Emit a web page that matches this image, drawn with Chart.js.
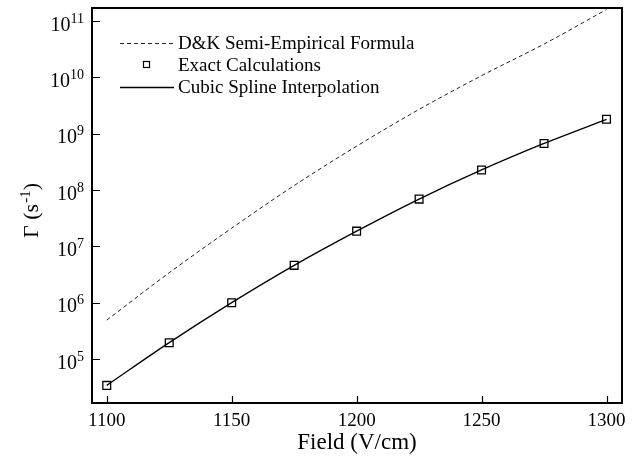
<!DOCTYPE html>
<html>
<head>
<meta charset="utf-8">
<title>Γ vs Field</title>
<script src="https://cdn.jsdelivr.net/npm/chart.js@4.4.1/dist/chart.umd.min.js"></script>
<style>
  html, body { margin: 0; padding: 0; background: #fff; }
  #wrap { width: 641px; height: 460px; }
</style>
</head>
<body>
<div id="wrap"><canvas id="c" width="641" height="460"></canvas></div>
<script>
// Field strengths (V/cm) at which the rates were evaluated
const fields = [1100, 1125, 1150, 1175, 1200, 1225, 1250, 1275, 1300];
// Exact calculations of the rate Γ (s^-1)
const exactRates = [3.4e4, 1.95e5, 1.0e6, 4.6e6, 1.86e7, 6.9e7, 2.27e8, 6.7e8, 1.8e9];
// D&K semi-empirical formula, same fields
const dkRates = [4.9e5, 3.4e6, 2.1e7, 1.2e8, 6.0e8, 2.7e9, 1.07e10, 3.9e10, 1.6e11];
// Axis ticks
const fieldTicks = [1100, 1150, 1200, 1250, 1300];
const rateExponents = [5, 6, 7, 8, 9, 10, 11];
// Legend entries
const legendLabels = ['D&K Semi-Empirical Formula', 'Exact Calculations', 'Cubic Spline Interpolation'];
const xTitle = 'Field (V/cm)';

const serif = "'Liberation Serif', 'Times New Roman', Times, serif";

const toPoints = (xs, ys) => xs.map((x, i) => ({ x: x, y: ys[i] }));

// Frame, inward ticks, power-of-ten labels, y title and the in-plot legend
const decorations = {
  id: 'decorations',
  afterDraw(chart) {
    const { ctx, chartArea: a } = chart;
    const xs = chart.scales.x, ys = chart.scales.y;
    ctx.save();

    // box around the plot
    ctx.strokeStyle = '#000';
    ctx.lineWidth = 2;
    ctx.strokeRect(a.left, a.top, a.right - a.left, a.bottom - a.top);

    // tick marks pointing into the plot
    ctx.lineWidth = 1.2;
    ctx.beginPath();
    fieldTicks.forEach(v => {
      const px = Math.round(xs.getPixelForValue(v)) + 0.5;
      ctx.moveTo(px, a.bottom);
      ctx.lineTo(px, a.bottom - 7);
    });
    rateExponents.forEach(e => {
      const py = Math.round(ys.getPixelForValue(Math.pow(10, e))) + 0.5;
      ctx.moveTo(a.left, py);
      ctx.lineTo(a.left + 8, py);
    });
    ctx.stroke();

    // y tick labels as 10 with a raised exponent
    ctx.fillStyle = '#000';
    ctx.textAlign = 'right';
    ctx.textBaseline = 'alphabetic';
    const labelRight = 84;
    rateExponents.forEach(e => {
      const py = ys.getPixelForValue(Math.pow(10, e));
      ctx.font = '14px ' + serif;
      const sup = String(e);
      const sw = ctx.measureText(sup).width;
      ctx.fillText(sup, labelRight, py + 1.5);
      ctx.font = '20px ' + serif;
      ctx.fillText('10', labelRight - sw, py + 9.5);
    });

    // rotated y title: Γ (s^-1)
    ctx.save();
    ctx.translate(38, (a.top + a.bottom) / 2 + 5);
    ctx.rotate(-Math.PI / 2);
    ctx.textAlign = 'left';
    const mainFont = '22px ' + serif, supFont = '15px ' + serif;
    ctx.font = mainFont;
    const p1 = 'Γ (s', p3 = ')';
    const w1 = ctx.measureText(p1).width, w3 = ctx.measureText(p3).width;
    ctx.font = supFont;
    const p2 = '-1';
    const w2 = ctx.measureText(p2).width + 1;
    let x0 = -(w1 + w2 + w3) / 2;
    ctx.font = mainFont;
    ctx.fillText(p1, x0, 0);
    ctx.font = supFont;
    ctx.fillText(p2, x0 + w1 + 1, -8);
    ctx.font = mainFont;
    ctx.fillText(p3, x0 + w1 + w2, 0);
    ctx.restore();

    // legend inside the plot
    const rows = [43, 65, 87];
    const sx0 = 120, sx1 = 174, tx = 178;
    const ds = chart.data.datasets;
    // dashed sample
    ctx.strokeStyle = ds[0].borderColor;
    ctx.lineWidth = ds[0].borderWidth;
    ctx.setLineDash(ds[0].borderDash);
    ctx.beginPath();
    ctx.moveTo(sx0, rows[0] + 0.5);
    ctx.lineTo(sx1, rows[0] + 0.5);
    ctx.stroke();
    ctx.setLineDash([]);
    // square marker sample
    ctx.strokeStyle = ds[2].borderColor;
    ctx.lineWidth = 1.2;
    ctx.strokeRect(143.5, rows[1] - 3.5, 6, 6);
    // solid sample
    ctx.strokeStyle = ds[1].borderColor;
    ctx.lineWidth = ds[1].borderWidth;
    ctx.beginPath();
    ctx.moveTo(sx0, rows[2] + 0.5);
    ctx.lineTo(sx1, rows[2] + 0.5);
    ctx.stroke();
    ctx.fillStyle = '#000';
    ctx.font = '19px ' + serif;
    ctx.textAlign = 'left';
    legendLabels.forEach((t, i) => ctx.fillText(t, tx, rows[i] + 6.3));

    ctx.restore();
  }
};

new Chart(document.getElementById('c'), {
  type: 'line',
  data: {
    datasets: [
      {
        label: legendLabels[0],
        data: toPoints(fields, dkRates),
        borderColor: '#222',
        borderWidth: 1,
        borderDash: [4, 3],
        pointRadius: 0,
        cubicInterpolationMode: 'monotone',
        fill: false
      },
      {
        label: legendLabels[2],
        data: toPoints(fields, exactRates),
        borderColor: '#000',
        borderWidth: 1.3,
        pointRadius: 0,
        cubicInterpolationMode: 'monotone',
        fill: false
      },
      {
        label: legendLabels[1],
        data: toPoints(fields, exactRates),
        showLine: false,
        borderColor: '#000',
        backgroundColor: 'rgba(0,0,0,0)',
        borderWidth: 1.3,
        pointStyle: 'rect',
        pointRadius: 5.5
      }
    ]
  },
  options: {
    responsive: false,
    animation: false,
    devicePixelRatio: 1,
    layout: { padding: { left: 0, top: 8, right: 19, bottom: 0 } },
    plugins: {
      legend: { display: false },
      tooltip: { enabled: false }
    },
    scales: {
      x: {
        type: 'linear',
        min: 1094.1,
        max: 1306.2,
        afterBuildTicks: s => { s.ticks = fieldTicks.map(v => ({ value: v })); },
        afterFit: s => { s.height = 57; },
        grid: { display: false, drawTicks: false },
        border: { display: false },
        ticks: {
          color: '#000',
          font: { family: serif, size: 19 },
          padding: 7,
          maxRotation: 0,
          autoSkip: false,
          callback: v => String(v)
        },
        title: {
          display: true,
          text: xTitle,
          color: '#000',
          font: { family: serif, size: 23 },
          padding: { top: 0, bottom: 3 }
        }
      },
      y: {
        type: 'logarithmic',
        min: Math.pow(10, 4.219),
        max: Math.pow(10, 11.231),
        afterFit: s => { s.width = 92; },
        grid: { display: false, drawTicks: false },
        border: { display: false },
        ticks: { display: false }
      }
    }
  },
  plugins: [decorations]
});
</script>
</body>
</html>
